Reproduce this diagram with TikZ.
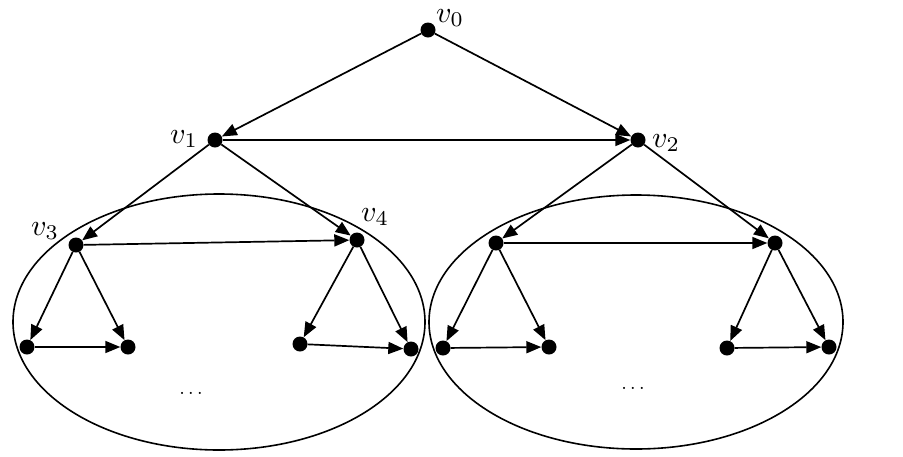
\documentclass[tikz,border=0pt]{standalone}
\usepackage{graphicx}
\usetikzlibrary{arrows.meta}
\begin{document}
\begin{tikzpicture}[x=1pt,y=-1pt,
  dot/.style={circle,fill=black,inner sep=0pt,minimum size=15pt},
  lbl/.style={inner sep=0pt},
  edge/.style={line width=1.7pt,-{Triangle[length=15pt,width=12pt]}},
  group/.style={line width=1.6pt}]
\useasboundingbox (0,0) rectangle (903,456);
% groups
\draw[group] (219,322) ellipse [x radius=206, y radius=128];
\draw[group] (636,322) ellipse [x radius=207, y radius=127];
% nodes
\node[dot] (v0) at (428,30) {};
\node[dot] (v1) at (215,140) {};
\node[dot] (v2) at (638,140) {};
\node[dot] (v3) at (76,245) {};
\node[dot] (v4) at (357,240) {};
\node[dot] (a) at (27,347) {};
\node[dot] (b) at (128,347) {};
\node[dot] (c) at (300,344) {};
\node[dot] (d) at (411,349) {};
\node[dot] (v5) at (496,243) {};
\node[dot] (v6) at (775,243) {};
\node[dot] (e) at (443,348) {};
\node[dot] (f) at (549,347) {};
\node[dot] (g) at (727,348) {};
\node[dot] (h) at (829,347) {};
% labels
\node[lbl] (l0) at (450,18) {\scalebox{3}{$v_0$}};
\node[lbl] (l1) at (184,139) {\scalebox{3}{$v_1$}};
\node[lbl] (l2) at (666,143) {\scalebox{3}{$v_2$}};
\node[lbl] (l3) at (45,231) {\scalebox{3}{$v_3$}};
\node[lbl] (l4) at (375,217) {\scalebox{3}{$v_4$}};
\node[lbl] (dl) at (191,393) {\scalebox{2}{$\dots$}};
\node[lbl] (dr) at (633,388) {\scalebox{2}{$\dots$}};
% edges
\draw[edge] (v0) -- (v1);
\draw[edge] (v0) -- (v2);
\draw[edge] (v1) -- (v2);
\draw[edge] (v1) -- (v3);
\draw[edge] (v1) -- (v4);
\draw[edge] (v2) -- (v5);
\draw[edge] (v2) -- (v6);
\draw[edge] (v3) -- (v4);
\draw[edge] (v3) -- (a);
\draw[edge] (v3) -- (b);
\draw[edge] (a) -- (b);
\draw[edge] (v4) -- (c);
\draw[edge] (v4) -- (d);
\draw[edge] (c) -- (d);
\draw[edge] (v5) -- (v6);
\draw[edge] (v5) -- (e);
\draw[edge] (v5) -- (f);
\draw[edge] (e) -- (f);
\draw[edge] (v6) -- (g);
\draw[edge] (v6) -- (h);
\draw[edge] (g) -- (h);
\end{tikzpicture}
\end{document}
